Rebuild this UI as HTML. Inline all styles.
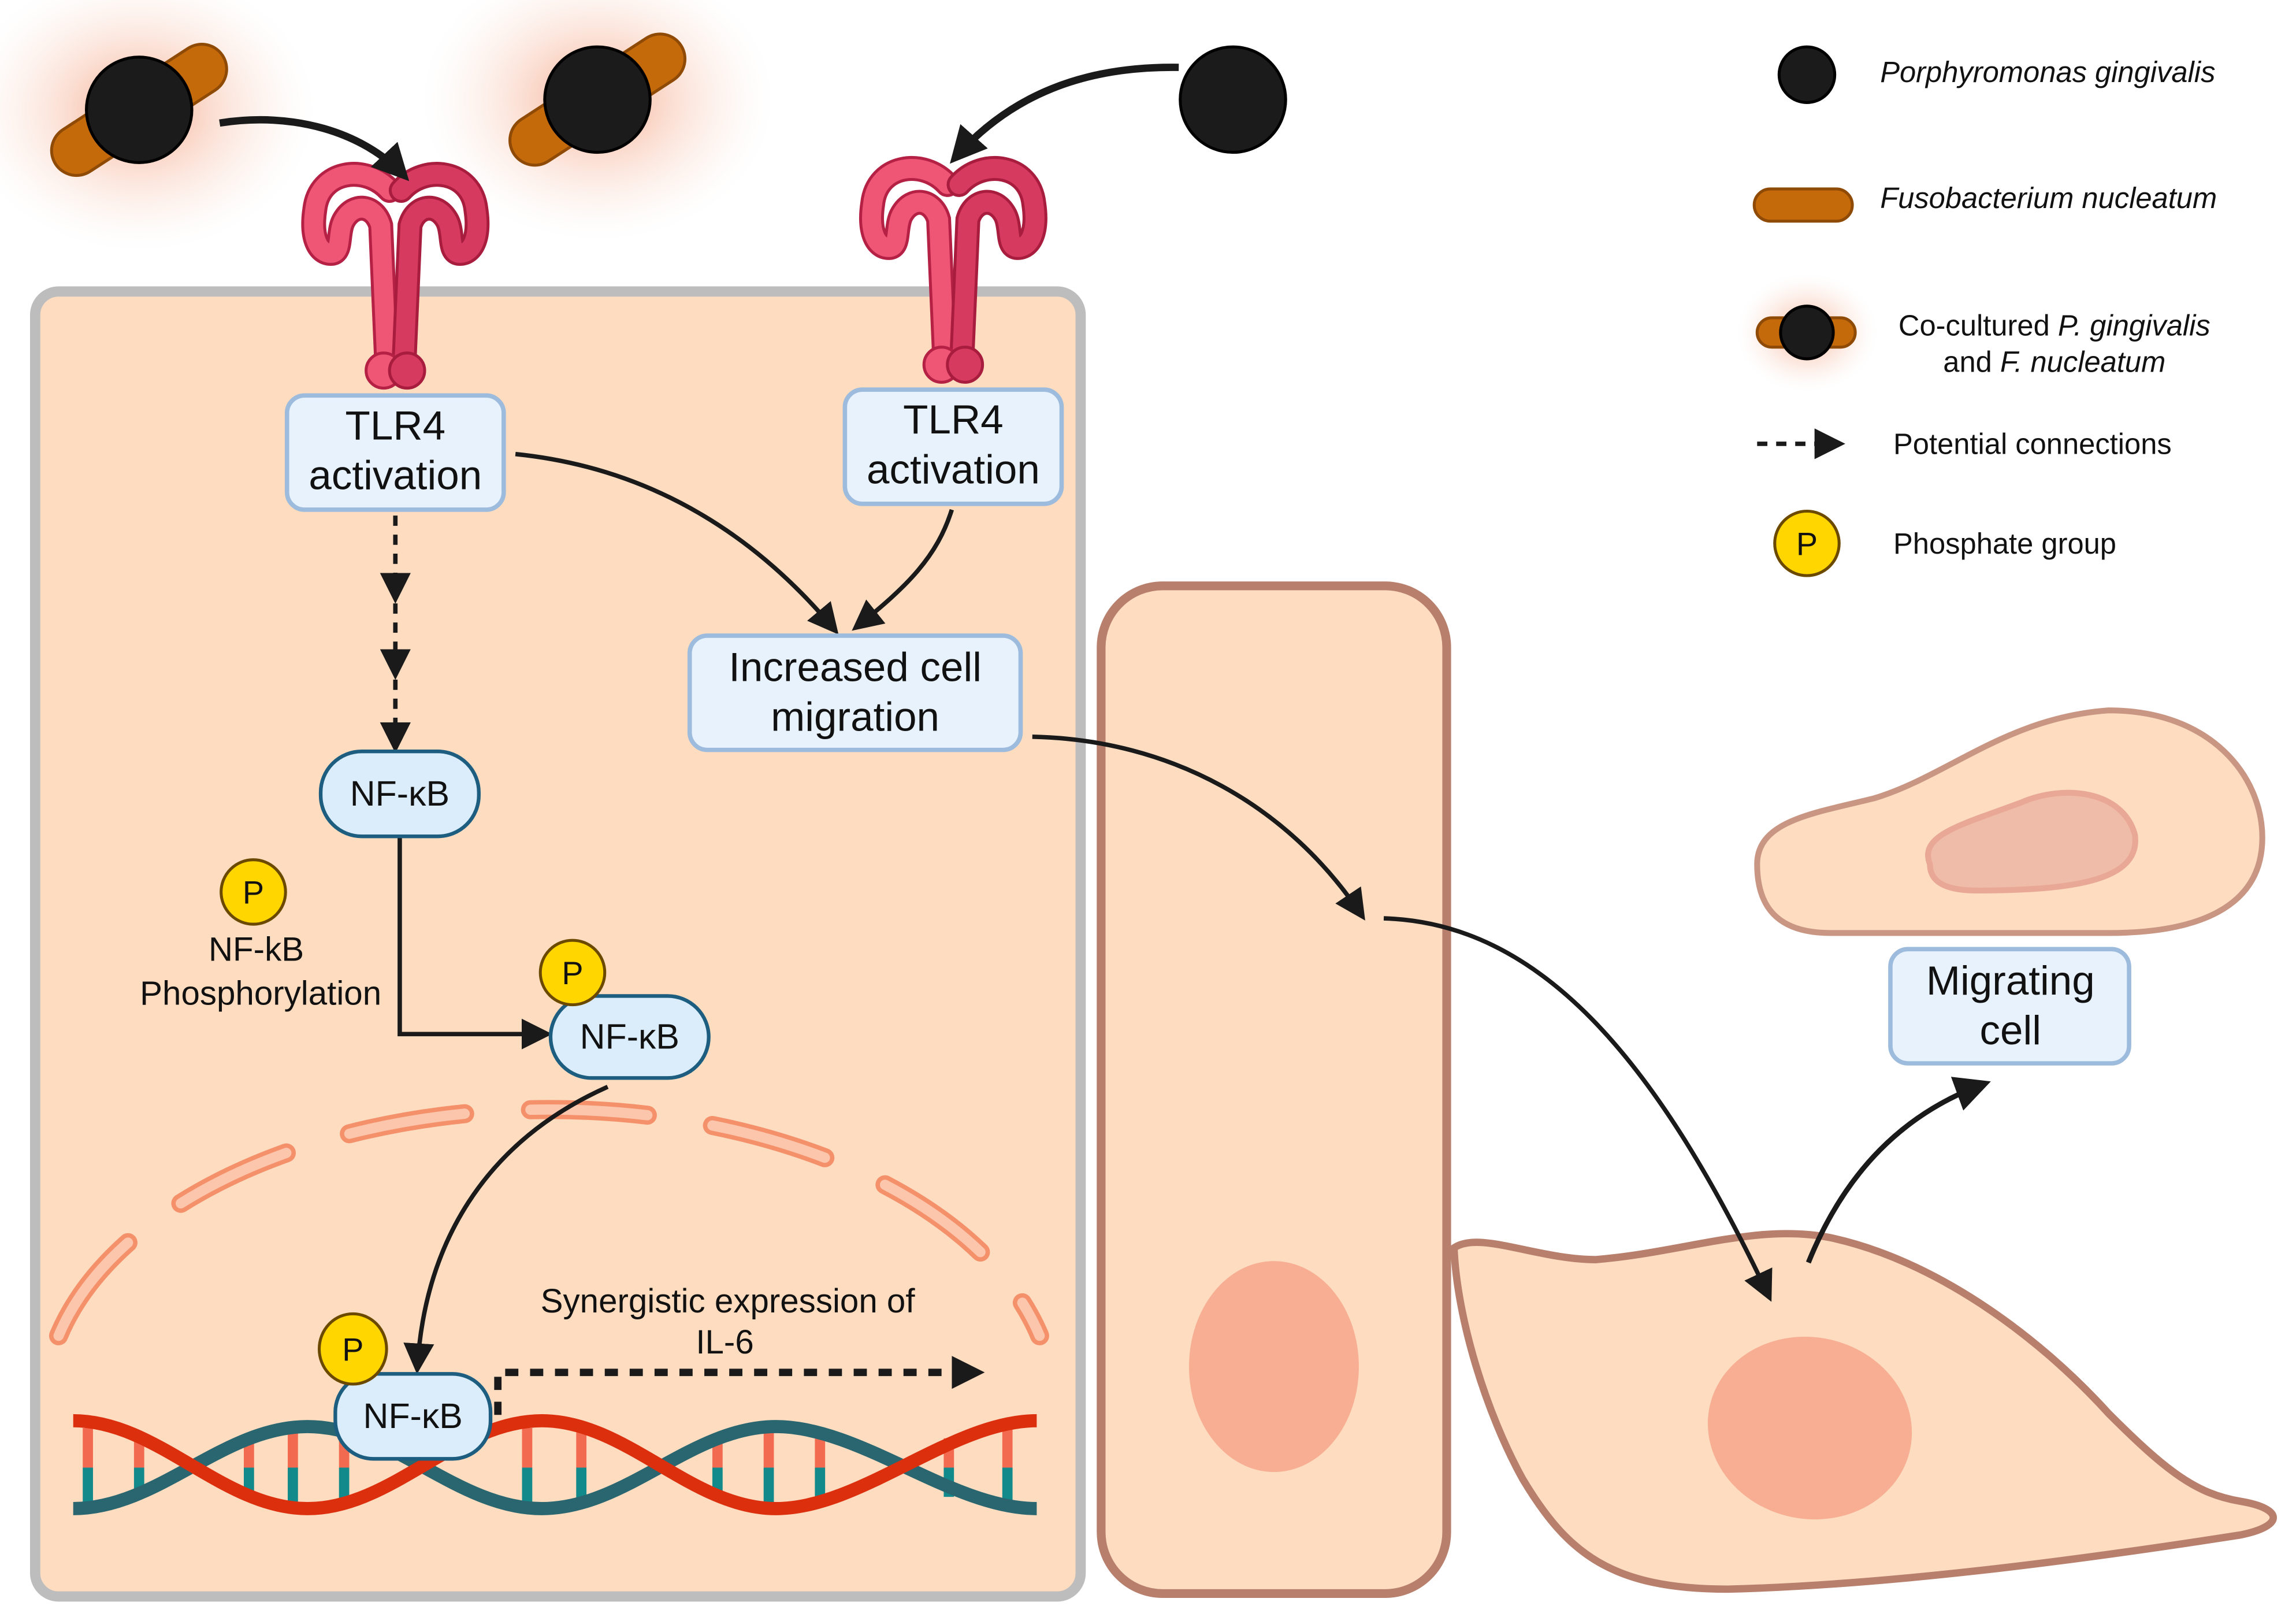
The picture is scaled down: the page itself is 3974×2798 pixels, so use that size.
<!DOCTYPE html>
<html><head><meta charset="utf-8"><style>
html,body{margin:0;padding:0;background:#fff}
svg{display:block}
text{font-family:"Liberation Sans","DejaVu Sans",sans-serif;fill:#111}
</style></head><body>
<svg width="3974" height="2798" viewBox="0 0 1568 1104" xmlns="http://www.w3.org/2000/svg">
<defs>
<marker id="ah" viewBox="0 0 10 10" refX="8" refY="5" markerWidth="5" markerHeight="5" orient="auto" markerUnits="strokeWidth">
<path d="M0,0 L10,5 L0,10 Z" fill="#1a1a1a"/></marker>
<marker id="ah2" viewBox="0 0 10 10" refX="8" refY="5" markerWidth="7" markerHeight="7" orient="auto" markerUnits="strokeWidth">
<path d="M0,0 L10,5 L0,10 Z" fill="#1a1a1a"/></marker>
<marker id="ah3" viewBox="0 0 10 10" refX="8" refY="5" markerWidth="4.5" markerHeight="4.5" orient="auto" markerUnits="strokeWidth">
<path d="M0,0 L10,5 L0,10 Z" fill="#1a1a1a"/></marker>
<radialGradient id="glow">
<stop offset="0" stop-color="#f39a78" stop-opacity="0.9"/>
<stop offset="0.4" stop-color="#f8c3ad" stop-opacity="0.55"/>
<stop offset="0.75" stop-color="#fbe6dc" stop-opacity="0.3"/>
<stop offset="1" stop-color="#fff" stop-opacity="0"/>
</radialGradient>
<g id="bact">
<ellipse cx="0" cy="0" rx="125" ry="100" fill="url(#glow)"/>
<rect x="-68" y="-17" width="136" height="34" rx="17" fill="#c56a0a" stroke="#8f4a05" stroke-width="2" transform="rotate(-33)"/>
<circle cx="0" cy="0" r="36" fill="#1b1b1b" stroke="#000" stroke-width="2"/>
</g>
<g id="tlr">
<path d="M-4,12 C-20,-6 -52,-2 -55,25 C-58,45 -52,55 -44,55 C-36,55 -40,40 -35,32 C-28,20 -14,22 -10,36 L-6,128" fill="none" stroke="#b52145" stroke-width="17" stroke-linecap="round"/>
<path d="M-4,12 C-20,-6 -52,-2 -55,25 C-58,45 -52,55 -44,55 C-36,55 -40,40 -35,32 C-28,20 -14,22 -10,36 L-6,128" fill="none" stroke="#ef5675" stroke-width="13" stroke-linecap="round"/>
<path d="M4,12 C20,-6 52,-2 55,25 C58,45 52,55 44,55 C36,55 40,40 35,32 C28,20 14,22 10,36 L6,128" fill="none" stroke="#a81c3e" stroke-width="17" stroke-linecap="round"/>
<path d="M4,12 C20,-6 52,-2 55,25 C58,45 52,55 44,55 C36,55 40,40 35,32 C28,20 14,22 10,36 L6,128" fill="none" stroke="#d63a5e" stroke-width="13" stroke-linecap="round"/>
<circle cx="-8" cy="135" r="12" fill="#ef5675" stroke="#b52145" stroke-width="2"/>
<circle cx="8" cy="135" r="12" fill="#d63a5e" stroke="#a81c3e" stroke-width="2"/>
</g>
</defs>

<use href="#bact" x="95" y="75"/>
<use href="#bact" x="408" y="68"/>
<circle cx="842" cy="68" r="36" fill="#1b1b1b" stroke="#000" stroke-width="2"/>

<rect x="24" y="199" width="714" height="891" rx="16" fill="#fddcc0" stroke="#bdbdbd" stroke-width="7"/>

<use href="#tlr" x="270" y="118"/>
<use href="#tlr" x="651" y="114"/>

<rect x="752" y="400" width="236" height="688" rx="42" fill="#fddcc0" stroke="#b77f6c" stroke-width="6"/>
<ellipse cx="870" cy="933" rx="58" ry="72" fill="#f8ae92"/>

<path d="M993,852 C1010,840 1050,860 1090,860 C1150,855 1200,835 1250,845 C1320,860 1390,910 1440,965 C1480,1005 1500,1020 1530,1025 C1560,1030 1560,1042 1530,1048 C1440,1062 1300,1082 1180,1085 C1100,1085 1070,1060 1040,1010 C1015,965 995,900 993,852 Z" fill="#fddcc0" stroke="#b77f6c" stroke-width="5"/>
<ellipse cx="1236" cy="975" rx="70" ry="62" transform="rotate(12 1236 975)" fill="#f8ae92"/>

<path d="M1200,590 C1200,560 1240,555 1280,545 C1330,530 1370,490 1440,485 C1510,485 1545,530 1545,572 C1545,620 1500,637 1440,637 L1250,637 C1210,637 1200,615 1200,590 Z" fill="#fddcc0" stroke="#c99683" stroke-width="4"/>
<path d="M1318,590 C1310,570 1340,563 1380,548 C1410,535 1450,540 1458,570 C1462,600 1420,608 1350,608 C1325,608 1318,600 1318,590 Z" fill="#f0bcaa" stroke="#e8a895" stroke-width="4"/>

<path d="M40,912 A345,203 0 0 1 710,912" fill="none" stroke="#f4906a" stroke-width="13" stroke-dasharray="80 45" stroke-linecap="round"/>
<path d="M40,912 A345,203 0 0 1 710,912" fill="none" stroke="#fcc6ad" stroke-width="7" stroke-dasharray="80 45" stroke-linecap="round"/>

<g stroke-width="7">
<g stroke="#f26a4f">
<line x1="60" y1="975" x2="60" y2="1002"/><line x1="95" y1="984" x2="95" y2="1002"/>
<line x1="170" y1="982" x2="170" y2="1002"/><line x1="200" y1="975" x2="200" y2="1002"/>
<line x1="235" y1="979" x2="235" y2="1002"/><line x1="360" y1="975" x2="360" y2="1002"/>
<line x1="397" y1="978" x2="397" y2="1002"/><line x1="490" y1="982" x2="490" y2="1002"/>
<line x1="525" y1="975" x2="525" y2="1002"/><line x1="560" y1="979" x2="560" y2="1002"/>
<line x1="648" y1="982" x2="648" y2="1002"/><line x1="688" y1="975" x2="688" y2="1002"/>
</g>
<g stroke="#12898a">
<line x1="60" y1="1002" x2="60" y2="1029"/><line x1="95" y1="1002" x2="95" y2="1020"/>
<line x1="170" y1="1002" x2="170" y2="1022"/><line x1="200" y1="1002" x2="200" y2="1029"/>
<line x1="235" y1="1002" x2="235" y2="1025"/><line x1="360" y1="1002" x2="360" y2="1029"/>
<line x1="397" y1="1002" x2="397" y2="1026"/><line x1="490" y1="1002" x2="490" y2="1022"/>
<line x1="525" y1="1002" x2="525" y2="1029"/><line x1="560" y1="1002" x2="560" y2="1025"/>
<line x1="648" y1="1002" x2="648" y2="1022"/><line x1="688" y1="1002" x2="688" y2="1029"/>
</g>
</g>
<path d="M50,1030 C108,1030 152,974 210,974 S312,1030 370,1030 S472,974 530,974 S650,1030 708,1030" fill="none" stroke="#2a6670" stroke-width="9"/>
<path d="M50,970 C108,970 152,1030 210,1030 S312,970 370,970 S472,1030 530,1030 S650,970 708,970" fill="none" stroke="#dc2f0e" stroke-width="9"/>

<g fill="none" stroke="#1a1a1a" stroke-width="3">
<path d="M150,84 C200,76 248,90 276,120" stroke-width="5" marker-end="url(#ah)"/>
<path d="M805,46 C740,45 690,65 652,108" stroke-width="5" marker-end="url(#ah)"/>
<path d="M352,310 C450,320 520,370 570,430" marker-end="url(#ah2)"/>
<path d="M650,348 C640,380 620,400 585,428" marker-end="url(#ah2)"/>
<path d="M270,352 L270,408" stroke-dasharray="7 6" marker-end="url(#ah2)"/>
<path d="M270,412 L270,460" stroke-dasharray="7 6" marker-end="url(#ah2)"/>
<path d="M270,464 L270,510" stroke-dasharray="7 6" marker-end="url(#ah2)"/>
<path d="M273,572 L273,706 L373,706" marker-end="url(#ah2)"/>
<path d="M415,742 C330,780 290,850 285,934" marker-end="url(#ah2)"/>
<path d="M340,966 L340,937 L668,937" stroke-width="5" stroke-dasharray="9 8" marker-end="url(#ah3)"/>
<path d="M705,503 C800,505 880,550 930,625" marker-end="url(#ah2)"/>
<path d="M945,627 C1050,630 1130,720 1208,885" marker-end="url(#ah2)"/>
<path d="M1235,862 C1260,800 1300,760 1355,740" stroke-width="3.5" marker-end="url(#ah2)"/>
</g>

<g fill="#e8f2fc" stroke="#9dbbdc" stroke-width="3">
<rect x="196" y="270" width="148" height="78" rx="12"/>
<rect x="577" y="266" width="148" height="78" rx="12"/>
<rect x="471" y="434" width="226" height="78" rx="12"/>
<rect x="1291" y="648" width="163" height="78" rx="12"/>
</g>
<g fill="#dbedfb" stroke="#1d5e80" stroke-width="2.5">
<rect x="219" y="513" width="108" height="58" rx="28"/>
<rect x="376" y="680" width="108" height="56" rx="28"/>
<rect x="229" y="938" width="106" height="58" rx="26"/>
</g>

<g fill="#ffd600" stroke="#6b4a00" stroke-width="2">
<circle cx="173" cy="609" r="22"/>
<circle cx="391" cy="664" r="22"/>
<ellipse cx="241" cy="921" rx="23" ry="24"/>
<circle cx="1234" cy="371" r="22"/>
</g>
<g font-size="22" text-anchor="middle">
<text x="173" y="617">P</text><text x="391" y="672">P</text><text x="241" y="929">P</text><text x="1234" y="379">P</text>
</g>

<g font-size="28" text-anchor="middle">
<text x="270" y="300">TLR4</text><text x="270" y="334">activation</text>
<text x="651" y="296">TLR4</text><text x="651" y="330">activation</text>
<text x="584" y="465">Increased cell</text><text x="584" y="499">migration</text>
<text x="1373" y="679">Migrating</text><text x="1373" y="713">cell</text>
</g>
<g font-size="24" text-anchor="middle">
<text x="273" y="550">NF-κB</text>
<text x="430" y="716">NF-κB</text>
<text x="282" y="975">NF-κB</text>
</g>
<g font-size="23" text-anchor="middle">
<text x="175" y="656">NF-kB</text>
<text x="178" y="686">Phosphorylation</text>
<text x="497" y="896">Synergistic expression of</text>
<text x="495" y="924">IL-6</text>
</g>

<circle cx="1234" cy="51" r="19" fill="#1b1b1b" stroke="#000" stroke-width="2"/>
<rect x="1198" y="129" width="67" height="22" rx="11" fill="#c56a0a" stroke="#8f4a05" stroke-width="2"/>
<ellipse cx="1234" cy="227" rx="50" ry="42" fill="url(#glow)"/>
<rect x="1200" y="217" width="67" height="20" rx="10" fill="#c56a0a" stroke="#8f4a05" stroke-width="2"/>
<circle cx="1234" cy="227" r="18" fill="#1b1b1b" stroke="#000" stroke-width="2"/>
<path d="M1200,303 L1256,303" stroke="#1a1a1a" stroke-width="3" stroke-dasharray="7 6" marker-end="url(#ah2)"/>
<g font-size="20">
<text x="1284" y="56" font-style="italic">Porphyromonas gingivalis</text>
<text x="1284" y="142" font-style="italic">Fusobacterium nucleatum</text>
<text x="1403" y="229" text-anchor="middle">Co-cultured <tspan font-style="italic">P. gingivalis</tspan></text>
<text x="1403" y="254" text-anchor="middle">and <tspan font-style="italic">F. nucleatum</tspan></text>
<text x="1293" y="310">Potential connections</text>
<text x="1293" y="378">Phosphate group</text>
</g>
</svg>
</body></html>
